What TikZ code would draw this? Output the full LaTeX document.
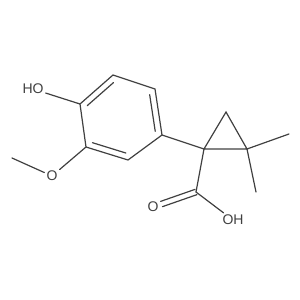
\documentclass[tikz,border=0pt]{standalone}
\usepackage{fontspec}
\setmainfont{Liberation Sans}
\usetikzlibrary{calc}
\definecolor{bondgray}{HTML}{404040}
\begin{document}
\begin{tikzpicture}[x=1pt,y=-1pt,
  bond/.style={line width=1.2pt, draw=bondgray, line cap=round},
  atom/.style={font=\fontsize{14}{14}\selectfont, text=bondgray, inner sep=2pt}]
\useasboundingbox (0,0) rectangle (300,300);
% ring
\coordinate (a1) at (113,75);
\coordinate (a2) at (155,89);
\coordinate (a3) at (162,135);
\coordinate (a4) at (128,160);
\coordinate (a5) at (86,147);
\coordinate (a6) at (80,104);
\coordinate (ctr) at (120.7,118.3);
% substituents
\node[atom] (ho) at (33,89) {HO};
\node[atom] (om) at (52,176) {O};
\coordinate (me) at (12,158);
\coordinate (c1) at (204,149);
\coordinate (c3) at (226,112);
\coordinate (c2) at (247,149);
\coordinate (m1) at (289,134);
\coordinate (m2) at (256,192);
\coordinate (cc) at (196,192);
\node[atom] (od) at (153,207) {O};
\node[atom] (oh) at (233,220) {OH};
% ring bonds
\draw[bond] (a1) -- (a2) -- (a3) -- (a4) -- (a5) -- (a6) -- cycle;
\draw[bond, shorten <=1pt, shorten >=1pt] ($(a6)!0.16!(ctr)$) -- ($(a1)!0.16!(ctr)$);
\draw[bond, shorten <=1pt, shorten >=1pt] ($(a2)!0.16!(ctr)$) -- ($(a3)!0.16!(ctr)$);
\draw[bond, shorten <=1pt, shorten >=1pt] ($(a4)!0.16!(ctr)$) -- ($(a5)!0.16!(ctr)$);
% substituent bonds
\draw[bond] (a6) -- (ho);
\draw[bond] (a5) -- (om);
\draw[bond] (om) -- (me);
\draw[bond] (a3) -- (c1);
% cyclopropane
\draw[bond] (c1) -- (c3) -- (c2) -- cycle;
\draw[bond] (c2) -- (m1);
\draw[bond] (c2) -- (m2);
% carboxyl
\draw[bond] (c1) -- (cc);
\draw[bond] (cc) -- (oh);
\draw[bond, shorten >=9pt] ($(cc)!2.8pt!90:(od)$) -- ($(od)!2.8pt!-90:(cc)$);
\draw[bond, shorten >=9pt] ($(cc)!2.8pt!-90:(od)$) -- ($(od)!2.8pt!90:(cc)$);
\end{tikzpicture}
\end{document}
